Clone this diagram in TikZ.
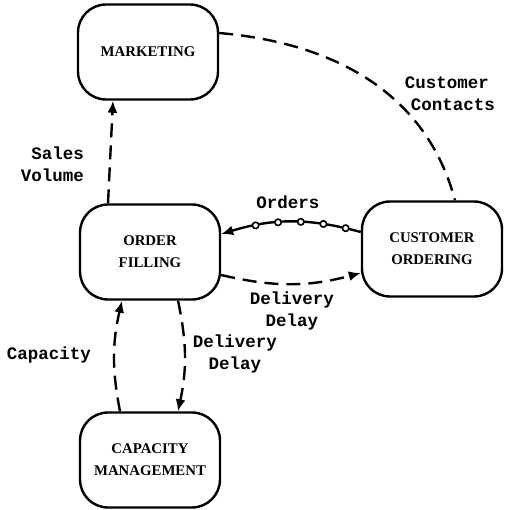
\documentclass[tikz,border=0pt]{standalone}
\usepackage{fontspec}
\setmainfont{Liberation Serif}
\newfontfamily\typefont{Liberation Mono}
\usetikzlibrary{arrows.meta,decorations.markings}

\tikzset{
  block/.style={draw, line width=1.2pt, rounded corners=14pt, minimum width=70pt,
    minimum height=47.5pt, align=center, font=\bfseries\fontsize{7.4}{11}\selectfont},
  lbl/.style={font=\typefont\bfseries\fontsize{8.75}{11}\selectfont, align=center},
  link/.style={line width=1.2pt, dash pattern=on 7pt off 4pt},
  tip/.style={-{Latex[length=6pt,width=5pt]}},
  beads/.style={postaction={decorate}, decoration={markings,
    mark=between positions 0.11 and 0.76 step 0.16 with
    {\draw[line width=0.8pt, fill=white] (0,0) circle (1.6pt);}}}
}

\begin{document}
\begin{tikzpicture}[x=0.5pt, y=0.5pt]
            \useasboundingbox (0,0) rectangle (508,510);
            \node[block] (mkt) at (148,458) {MARKETING};
            \node[block] (ord) at (150,258) {ORDER\\FILLING};
            \node[block] (cust) at (432,261) {CUSTOMER\\ORDERING};
            \node[block] (cap) at (150,50) {CAPACITY\\MANAGEMENT};

            \draw[link, tip] ([xshift=-21pt]ord.north) -- ([xshift=-17.5pt]mkt.south);
            \draw[link] ([yshift=9.5pt]mkt.east) to[out=-5, in=105] ([xshift=11.5pt]cust.north);
            \draw[line width=1.2pt, tip, beads] ([yshift=8.5pt]cust.west) to[bend right=16] ([yshift=9pt]ord.east);
            \draw[link, tip] ([yshift=-11.5pt]ord.east) to[bend right=14] ([yshift=-12pt]cust.west);
            \draw[link, tip] ([xshift=14pt]ord.south) to[bend left=12] ([xshift=14pt]cap.north);
            \draw[link, tip] ([xshift=-15pt]cap.north) to[bend left=12] ([xshift=-14pt]ord.south);

            \node[lbl, align=left] (contacts) at (450,416) {Customer\\\hspace{3pt}Contacts};
            \node[lbl, anchor=east, align=right] (sales) at (91,346) {Sales\\Volume};
            \node[lbl] (orders) at (288,308) {Orders};
            \node[lbl] (delay) at (292,199) {Delivery\\Delay};
            \node[lbl] (delaycap) at (235,156) {Delivery\\Delay};
            \node[lbl] (capacity) at (49,155) {Capacity};
\end{tikzpicture}
\end{document}
